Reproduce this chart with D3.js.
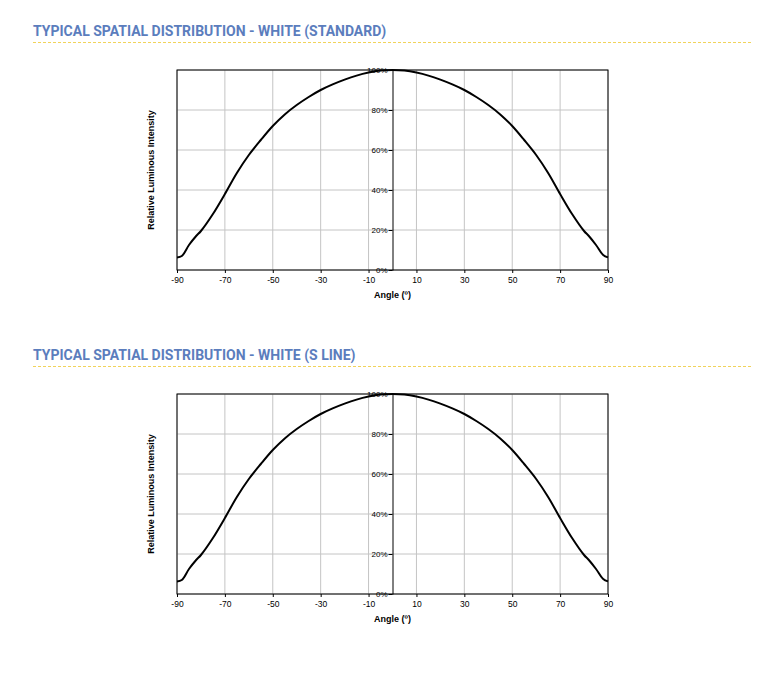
<!DOCTYPE html>
<html>
<head>
<meta charset="utf-8">
<script src="https://cdn.jsdelivr.net/npm/d3@7"></script>
<style>
  body { margin: 0; background: #fff; }
  svg { display: block; }
</style>
</head>
<body>
<div id="chart"></div>
<script>
const titles = ['TYPICAL SPATIAL DISTRIBUTION - WHITE (STANDARD)', 'TYPICAL SPATIAL DISTRIBUTION - WHITE (S LINE)'];
const angles = [-90, -88, -85, -82, -80, -75, -70, -65, -60, -55, -50, -45, -40, -35, -30, -25, -20, -15, -10, -5, 0,
  5, 10, 15, 20, 25, 30, 35, 40, 45, 50, 55, 60, 65, 70, 75, 80, 82, 85, 88, 90];
const standardValues = [6.3, 7, 12.5, 17, 19.5, 28, 38, 48.5, 57.5, 65, 72, 77.8, 82.5, 86.5, 90, 92.8, 95.2, 97.2, 98.7, 99.7, 100,
  99.7, 98.7, 97.2, 95.2, 92.8, 90, 86.5, 82.5, 77.8, 72, 65, 57.5, 48.5, 38, 28, 19.5, 17, 12.5, 7.5, 6.3];
const sLineValues = [6.3, 7, 12.5, 17, 19.5, 28, 38, 48.5, 57.5, 65, 72, 77.8, 82.5, 86.5, 90, 92.8, 95.2, 97.2, 98.7, 99.7, 100,
  99.7, 98.7, 97.2, 95.2, 92.8, 90, 86.5, 82.5, 77.8, 72, 65, 57.5, 48.5, 38, 28, 19.5, 17, 12.5, 7.5, 6.3];
const xTicks = [-90, -70, -50, -30, -10, 10, 30, 50, 70, 90];
const yTicks = [0, 20, 40, 60, 80, 100];

const font = '"Liberation Sans", Arial, sans-serif';

const svg = d3.select('#chart')
  .append('svg')
  .attr('width', 782)
  .attr('height', 685);

const x = d3.scaleLinear().domain([-90, 90]).range([177, 608]);
const y = d3.scaleLinear().domain([0, 100]).range([270, 70]);

const drawChart = (offset, title, values) => {
  const g = svg.append('g').attr('transform', `translate(0, ${offset})`);
  const data = angles.map((a, i) => ({angle: a, value: values[i]}));

  // heading
  g.append('text')
    .attr('x', 33)
    .attr('y', 36)
    .attr('font-family', 'Roboto, sans-serif')
    .attr('font-weight', 700)
    .attr('font-size', 14)
    .attr('fill', '#5b7dbd')
    .text(title);
  g.append('line')
    .attr('x1', 33).attr('x2', 753)
    .attr('y1', 42.5).attr('y2', 42.5)
    .attr('stroke', '#f1d35a')
    .attr('stroke-width', 1)
    .attr('stroke-dasharray', '3,2');

  // grid
  g.append('g')
    .selectAll('line')
    .data(xTicks)
    .join('line')
    .attr('x1', d => x(d)).attr('x2', d => x(d))
    .attr('y1', y(0)).attr('y2', y(100))
    .attr('stroke', '#c4c4c4');
  g.append('g')
    .selectAll('line')
    .data(yTicks)
    .join('line')
    .attr('x1', x(-90)).attr('x2', x(90))
    .attr('y1', d => y(d)).attr('y2', d => y(d))
    .attr('stroke', '#c4c4c4');

  // frame
  g.append('rect')
    .attr('x', x(-90)).attr('y', y(100))
    .attr('width', x(90) - x(-90)).attr('height', y(0) - y(100))
    .attr('fill', 'none')
    .attr('stroke', '#000');

  // axes
  const gx = g.append('g')
    .attr('transform', `translate(0, ${y(0)})`)
    .call(d3.axisBottom(x).tickValues(xTicks).tickSize(3).tickSizeOuter(0).tickFormat(d => String(d)))
    .call(g => g.select('.domain').remove());
  gx.attr('font-family', font).attr('font-size', 8.5);
  gx.selectAll('text')
    .attr('dy', '0.85em')
    .attr('fill', '#000');
  gx.selectAll('line').attr('stroke', '#000');

  const gy = g.append('g')
    .attr('transform', `translate(${x(0)}, 0)`)
    .call(d3.axisLeft(y).tickValues(yTicks).tickSize(4).tickSizeOuter(0).tickFormat(d => d + '%'));
  gy.attr('font-family', font).attr('font-size', 8);
  gy.select('.domain').attr('stroke', '#000');
  gy.selectAll('text')
    .attr('x', -5)
    .attr('fill', '#000');
  gy.selectAll('line').attr('stroke', '#000');

  // axis titles
  g.append('text')
    .attr('x', x(0))
    .attr('y', 298)
    .attr('text-anchor', 'middle')
    .attr('font-family', font)
    .attr('font-weight', 700)
    .attr('font-size', 9)
    .text('Angle (º)');
  g.append('text')
    .attr('transform', `translate(154, ${(y(0) + y(100)) / 2}) rotate(-90)`)
    .attr('text-anchor', 'middle')
    .attr('font-family', font)
    .attr('font-weight', 700)
    .attr('font-size', 9)
    .text('Relative Luminous Intensity');

  // curve
  const line = d3.line()
    .x(d => x(d.angle))
    .y(d => y(d.value))
    .curve(d3.curveCatmullRom.alpha(0.5));
  g.append('path')
    .datum(data)
    .attr('fill', 'none')
    .attr('stroke', '#000')
    .attr('stroke-width', 2)
    .attr('d', line);
};

drawChart(0, titles[0], standardValues);
drawChart(324, titles[1], sLineValues);
</script>
</body>
</html>
